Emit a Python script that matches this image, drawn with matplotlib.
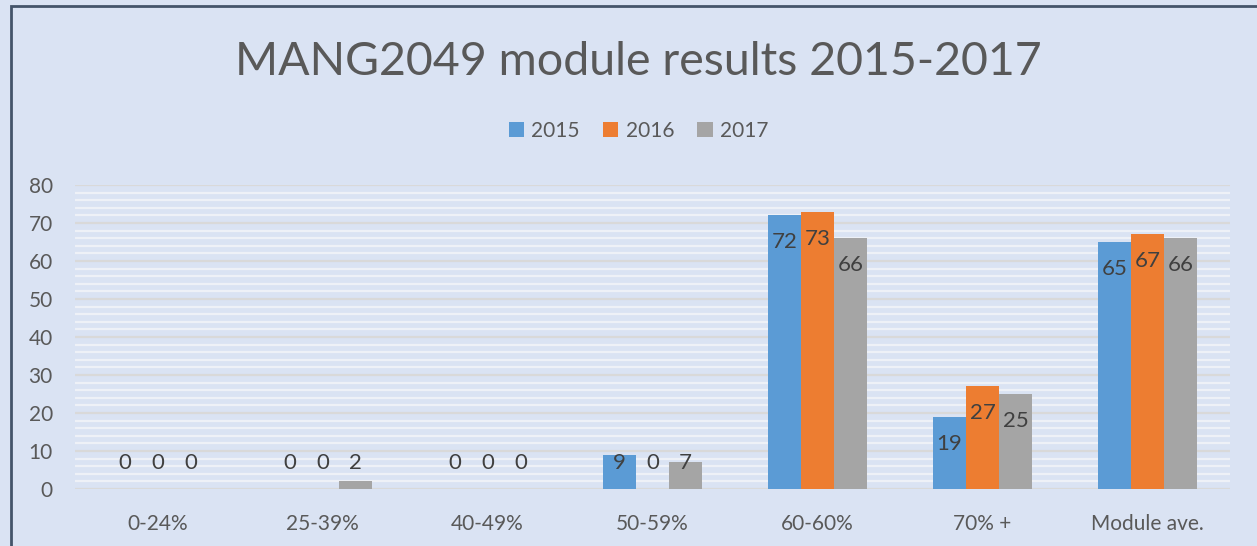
import numpy as np
import matplotlib.pyplot as plt
from matplotlib.patches import Rectangle
from matplotlib.ticker import MultipleLocator

# --- данные ---
categories = ["0-24%", "25-39%", "40-49%", "50-59%", "60-60%", "70% +", "Module ave."]
years = ["2015", "2016", "2017"]
vals_2015 = [0, 0, 0, 9, 72, 19, 65]
vals_2016 = [0, 0, 0, 0, 73, 27, 67]
vals_2017 = [0, 2, 0, 7, 66, 25, 66]
colors = ["#5B9BD5", "#ED7D31", "#A5A5A5"]

plt.rcParams['font.family'] = ['Lato', 'DejaVu Sans']
bg = "#DAE3F3"
txt = "#595959"

fig = plt.figure(figsize=(12.57, 5.46), dpi=100, facecolor=bg)
ax = fig.add_axes([75 / 1257, 1 - 489 / 546, 1155 / 1257, 304 / 546])
ax.set_facecolor(bg)

x = np.arange(len(categories))
w = 0.2
for i, (vals, c, lab) in enumerate(zip([vals_2015, vals_2016, vals_2017], colors, years)):
    pos = x + (i - 1) * w
    ax.bar(pos, vals, w, color=c, label=lab, zorder=3)
    for p, v in zip(pos, vals):
        # подписи внутри у вершины, для низких столбцов - над осью
        ax.text(p, max(v - 7.1, 6.8), str(v), ha='center', va='center',
                fontsize=16, color="#404040", zorder=4)

ax.set_xlim(-0.5, len(categories) - 0.5)
ax.set_ylim(0, 80)
ax.yaxis.set_major_locator(MultipleLocator(10))
ax.yaxis.set_minor_locator(MultipleLocator(2))
ax.grid(which='minor', axis='y', color='#EEF1F7', lw=1.6, zorder=1)
ax.grid(which='major', axis='y', color='#D9D9D9', lw=1.6, zorder=2)
ax.set_xticks(x)
ax.set_xticklabels(categories)
ax.tick_params(axis='both', which='both', length=0, colors=txt, labelsize=15)
ax.tick_params(axis='x', pad=18)
ax.tick_params(axis='y', pad=16)
for s in ax.spines.values():
    s.set_visible(False)

fig.text(0.508, 1 - 62 / 546, "MANG2049 module results 2015-2017", ha='center', va='center',
         fontsize=33.5, color=txt)
fig.legend(loc='center', bbox_to_anchor=(0.508, 1 - 131 / 546), ncol=3, frameon=False,
           fontsize=15, labelcolor=txt, handlelength=0.75, handleheight=0.75,
           handletextpad=0.35, columnspacing=1.1)

# рамка (обрезана справа и снизу)
fig.patches.append(Rectangle((11 / 1257, -0.1), 1.2, 1.1 - 6 / 546, transform=fig.transFigure,
                             fill=False, edgecolor='#44546A', lw=2))

fig.savefig('out.png', dpi=100, facecolor=bg)
